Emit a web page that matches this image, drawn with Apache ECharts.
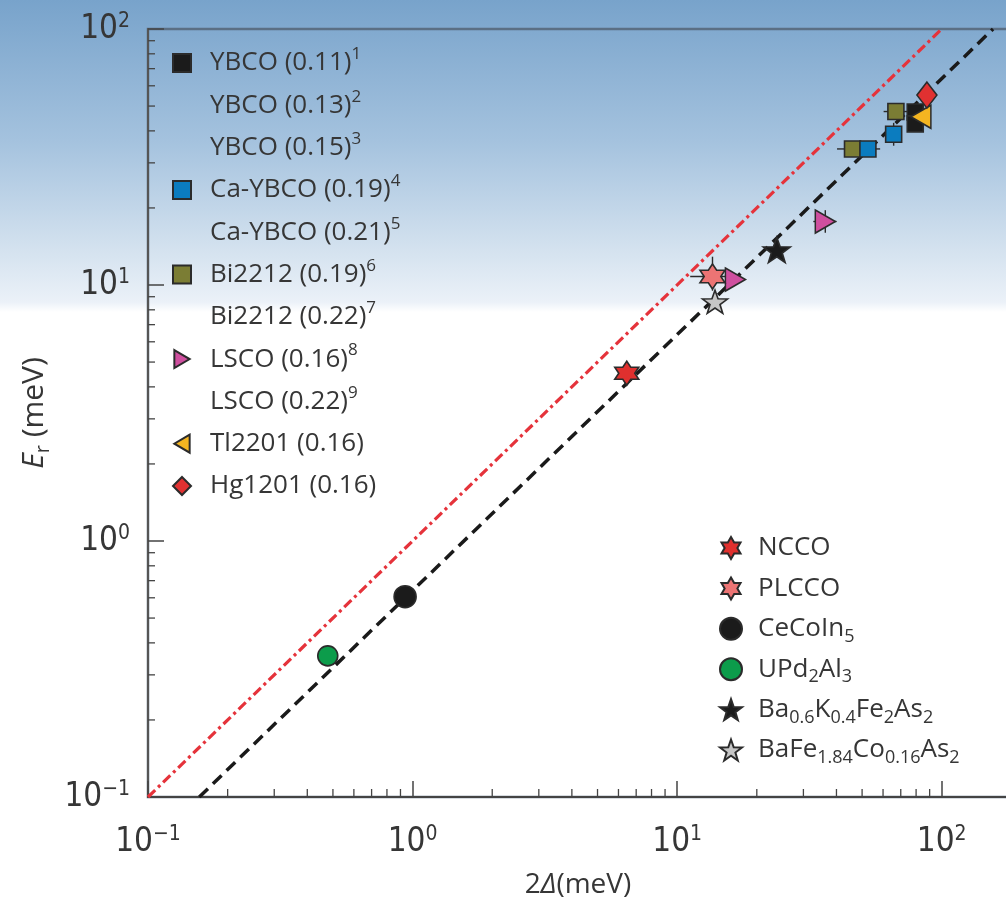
<!DOCTYPE html>
<html><head><meta charset="utf-8">
<script src="https://cdn.jsdelivr.net/npm/echarts@6/dist/echarts.min.js"></script>
<style>
html,body{margin:0;padding:0;}
body{width:1006px;height:897px;background:linear-gradient(to bottom,#78a3cb 0px,#a4c2de 140px,#d4e2ef 250px,#ebf1f8 302px,#ffffff 312px,#ffffff 897px);}
#chart{width:1006px;height:897px;}
</style></head><body><div id="chart"></div>
<script>
// ---------- data ----------
const xTickLabels = ['10^-1','10^0','10^1','10^2'];
const yTickLabels = ['10^-1','10^0','10^1','10^2'];
const minorTicksX = [0.2,0.3,0.4,0.5,0.6,0.7,0.8,0.9,2,3,4,5,6,7,8,9,20,30,40,50,60,70,80,90];
const minorTicksY = [0.2,0.3,0.4,0.5,0.6,0.7,0.8,0.9,2,3,4,5,6,7,8,9,20,30,40,50,60,70,80,90];

const leftNames = ['YBCO (0.11)','YBCO (0.13)','YBCO (0.15)','Ca-YBCO (0.19)','Ca-YBCO (0.21)','Bi2212 (0.19)','Bi2212 (0.22)','LSCO (0.16)','LSCO (0.22)','Tl2201 (0.16)','Hg1201 (0.16)'];
const leftSups  = ['1','2','3','4','5','6','7','8','9','',''];
const rightNames = ['NCCO','PLCCO','CeCoIn5','UPd2Al3','Ba0.6K0.4Fe2As2','BaFe1.84Co0.16As2'];

// values: [2Δ (meV), Er (meV)]
const ybco011   = [[79.4, 47.4], [79.4, 42.6]];
const caYbco019 = [[52.6, 34.0], [65.8, 38.8]];
const bi2212019 = [[46.0, 34.0], [67.1, 47.6]];
const lsco016   = [[16.6, 10.5], [36.3, 17.7]];
const tl2201    = [[83.4, 45.4]];
const hg1201    = [[87.9, 55.2]];
const ncco      = [[6.45, 4.52]];
const plcco     = [[13.6, 10.8]];
const cecoin5   = [[0.937, 0.606]];
const upd2al3   = [[0.478, 0.356]];
const baK       = [[23.8, 13.7]];
const baFeCo    = [[13.9, 8.6]];

// error bars: [x, y, xLow, xHigh, yLow, yHigh]
const errorBars = [
  [13.6, 10.8, 11.2, 15.5, 9.5, 12.9],
  [46.0, 34.0, 40.2, 52.0, 34.0, 34.0],
  [52.6, 34.0, 47.0, 58.5, 34.0, 34.0],
  [65.8, 38.8, 61.5, 70.5, 35.0, 43.0],
  [67.1, 47.6, 60.3, 74.0, 47.6, 47.6],
  [36.3, 17.7, 32.7, 40.0, 16.0, 19.6],
  [83.4, 45.4, 78.0, 90.6, 45.4, 45.4]
];

// guide lines: Er = 2Δ (red) and Er = 0.64·2Δ (black)
const lineEqual = [[0.1, 0.1], [100, 100]];
const line064   = [[0.15625, 0.1], [156.25, 100]];

// ---------- styling ----------
const FONT = "'Open Sans', 'Noto Sans', sans-serif";
const TICKFONT = "'Liberation Sans Narrow', 'DejaVu Sans Condensed', 'Roboto', sans-serif";
const TXT = '#363636';
const BORDER = '#2b2b2b';
const STAR6 = 'path://M10,0 L12.885,5 L18.66,5 L15.77,10 L18.66,15 L12.885,15 L10,20 L7.115,15 L1.34,15 L4.23,10 L1.34,5 L7.115,5 Z';
const STAR5 = 'path://M10,0 L12.351,6.764 L19.511,6.910 L13.804,11.236 L15.878,18.090 L10,14 L4.122,18.090 L6.196,11.236 L0.489,6.910 L7.649,6.764 Z';
const TRI_R = 'path://M0,0 L17,10 L0,20 Z';
const TRI_L = 'path://M17,0 L0,10 L17,20 Z';

function sc(name, data, symbol, size, color, z) {
  return {
    name: name, type: 'scatter', data: data, symbol: symbol, symbolSize: size,
    symbolKeepAspect: false, z: z || 5,
    itemStyle: { color: color, borderColor: BORDER, borderWidth: 1.6, opacity: 1 },
    emphasis: { disabled: true }
  };
}
function blank(name) {
  return { name: name, type: 'scatter', data: [], itemStyle: { color: 'rgba(0,0,0,0)', borderWidth: 0 } };
}

const series = [
  { name: 'eq', type: 'line', data: lineEqual, symbol: 'none', z: 2, silent: true,
    lineStyle: { color: '#e5333b', width: 3.2, type: [10, 4, 3, 4] } },
  { name: 'fit', type: 'line', data: line064, symbol: 'none', z: 2, silent: true,
    lineStyle: { color: '#1a1a1a', width: 3.5, type: [12, 7] } },
  { name: 'err', type: 'custom', coordinateSystem: 'cartesian2d', data: errorBars, z: 3, silent: true, clip: false,
    renderItem: function (params, api) {
      const a = api.coord([api.value(2), api.value(1)]);
      const b = api.coord([api.value(3), api.value(1)]);
      const c = api.coord([api.value(0), api.value(4)]);
      const d = api.coord([api.value(0), api.value(5)]);
      const st = { stroke: '#2a2a2a', lineWidth: 1.4 };
      return { type: 'group', children: [
        { type: 'line', shape: { x1: a[0], y1: a[1], x2: b[0], y2: b[1] }, style: st },
        { type: 'line', shape: { x1: c[0], y1: c[1], x2: d[0], y2: d[1] }, style: st }
      ] };
    } },
  sc('YBCO (0.11)', ybco011, 'rect', 16, '#1b1b1b', 5),
  blank('YBCO (0.13)'), blank('YBCO (0.15)'),
  sc('Ca-YBCO (0.19)', caYbco019, 'rect', 16, '#0b7cbf', 6),
  blank('Ca-YBCO (0.21)'),
  sc('Bi2212 (0.19)', bi2212019, 'rect', 16, '#7b7d34', 5),
  blank('Bi2212 (0.22)'),
  sc('LSCO (0.16)', lsco016, TRI_R, [20, 23], '#cf4f9f', 6),
  blank('LSCO (0.22)'),
  sc('Tl2201 (0.16)', tl2201, TRI_L, [20, 23], '#f4b521', 7),
  sc('Hg1201 (0.16)', hg1201, 'diamond', [20, 26], '#e03131', 8),
  sc('NCCO', ncco, STAR6, 24, '#e0302e', 6),
  sc('PLCCO', plcco, STAR6, 25, '#ec7474', 7),
  sc('CeCoIn5', cecoin5, 'circle', 22, '#1b1b1b', 6),
  sc('UPd2Al3', upd2al3, 'circle', 20, '#0c9c4b', 6),
  sc('Ba0.6K0.4Fe2As2', baK, STAR5, [27, 25], '#1b1b1b', 6),
  sc('BaFe1.84Co0.16As2', baFeCo, STAR5, [25, 23], '#c6c6c6', 6),
  { name: 'minorX', type: 'custom', coordinateSystem: 'cartesian2d', silent: true, clip: false, z: 1,
    data: minorTicksX.map(v => [v, 0.1]),
    renderItem: function (params, api) {
      const p = api.coord([api.value(0), api.value(1)]);
      return { type: 'line', shape: { x1: p[0], y1: p[1], x2: p[0], y2: p[1] - 8 }, style: { stroke: '#444', lineWidth: 1.3 } };
    } },
  { name: 'minorY', type: 'custom', coordinateSystem: 'cartesian2d', silent: true, clip: false, z: 1,
    data: minorTicksY.map(v => [0.1, v]),
    renderItem: function (params, api) {
      const p = api.coord([api.value(0), api.value(1)]);
      return { type: 'line', shape: { x1: p[0], y1: p[1], x2: p[0] + 7, y2: p[1] }, style: { stroke: '#444', lineWidth: 1.3 } };
    } }
];

const LH = 34;
const richLegend = {
  n: { fontFamily: FONT, fontSize: 26, lineHeight: LH, verticalAlign: 'middle', color: TXT },
  p: { fontFamily: FONT, fontSize: 17, lineHeight: 16, verticalAlign: 'top', color: TXT },
  s: { fontFamily: FONT, fontSize: 18, lineHeight: 12, verticalAlign: 'bottom', color: TXT },
  g: { width: 14, lineHeight: LH }
};
const subFmt = {
  'CeCoIn5': '{n|CeCoIn}{s|5}',
  'UPd2Al3': '{n|UPd}{s|2}{n|Al}{s|3}',
  'Ba0.6K0.4Fe2As2': '{n|Ba}{s|0.6}{n|K}{s|0.4}{n|Fe}{s|2}{n|As}{s|2}',
  'BaFe1.84Co0.16As2': '{n|BaFe}{s|1.84}{n|Co}{s|0.16}{n|As}{s|2}'
};

function powLabel(v) {
  const e = Math.round(Math.log10(v));
  return '{b|10}{e|' + String(e).replace('-', '\u2212') + '}';
}
const tickRich = {
  b: { fontFamily: TICKFONT, fontSize: 33, color: TXT, lineHeight: 36, verticalAlign: 'middle' },
  e: { fontFamily: TICKFONT, fontSize: 21, color: TXT, lineHeight: 20, verticalAlign: 'top' }
};

const option = {
  animation: false,
  grid: { left: 148, right: -2, top: 29, bottom: 100, show: true, outerBoundsMode: 'none', containLabel: false,
          borderColor: '#5b6f84', borderWidth: 2.5, backgroundColor: 'transparent' },
  xAxis: {
    type: 'log', logBase: 10, min: 0.1, max: 178,
    axisLine: { lineStyle: { color: '#444', width: 2 } },
    axisTick: { inside: true, length: 16, lineStyle: { color: '#444', width: 1.5 } },
    splitLine: { show: false },
    axisLabel: { margin: 27, showMaxLabel: false, formatter: powLabel, rich: tickRich },
    name: '{n|2}{i|\u0394}{n|(meV)}', nameLocation: 'middle', nameGap: 70,
    nameTextStyle: { rich: {
      n: { fontFamily: FONT, fontSize: 28, color: TXT, lineHeight: 36 },
      i: { fontFamily: FONT, fontSize: 28, fontStyle: 'italic', color: TXT, lineHeight: 36 } } }
  },
  yAxis: {
    type: 'log', logBase: 10, min: 0.1, max: 100,
    axisLine: { lineStyle: { color: '#555', width: 2 } },
    axisTick: { inside: true, length: 16, lineStyle: { color: '#444', width: 1.5 } },
    splitLine: { show: false },
    axisLabel: { margin: 18, formatter: powLabel, rich: tickRich },
    name: '{i|E}{s|r}{n| (meV)}', nameLocation: 'middle', nameGap: 88, nameRotate: 90,
    nameTextStyle: { rich: {
      n: { fontFamily: FONT, fontSize: 30, color: TXT, lineHeight: 38, verticalAlign: 'middle' },
      i: { fontFamily: FONT, fontSize: 30, fontStyle: 'italic', color: TXT, lineHeight: 38, verticalAlign: 'middle' },
      s: { fontFamily: FONT, fontSize: 20, color: TXT, lineHeight: 14, verticalAlign: 'bottom' } } }
  },
  legend: [
    {
      orient: 'vertical', left: 172, top: 63 - LH / 2, padding: 0, itemGap: 42.3 - LH, itemWidth: 18, itemHeight: 18,
      selectedMode: false,
      data: leftNames.map(function (n) {
        const hasSym = ['YBCO (0.11)','Ca-YBCO (0.19)','Bi2212 (0.19)','LSCO (0.16)','Tl2201 (0.16)','Hg1201 (0.16)'].indexOf(n) >= 0;
        return hasSym ? { name: n } : { name: n, icon: 'none' };
      }),
      formatter: function (name) {
        const i = leftNames.indexOf(name);
        return '{g| }{n|' + name + '}' + (leftSups[i] ? '{p|' + leftSups[i] + '}' : '');
      },
      textStyle: { lineHeight: LH, rich: richLegend }
    },
    {
      orient: 'vertical', left: 719, top: 548 - LH / 2, padding: 0, itemGap: 40.4 - LH, itemWidth: 22, itemHeight: 22,
      selectedMode: false,
      data: rightNames,
      formatter: function (name) {
        return '{g| }' + (subFmt[name] || '{n|' + name + '}');
      },
      textStyle: { lineHeight: LH, rich: Object.assign({}, richLegend, { g: { width: 11, lineHeight: LH } }) }
    }
  ],
  series: series
};

const chart = echarts.init(document.getElementById('chart'), null, { renderer: 'canvas' });
chart.setOption(option);
</script>
</body></html>
